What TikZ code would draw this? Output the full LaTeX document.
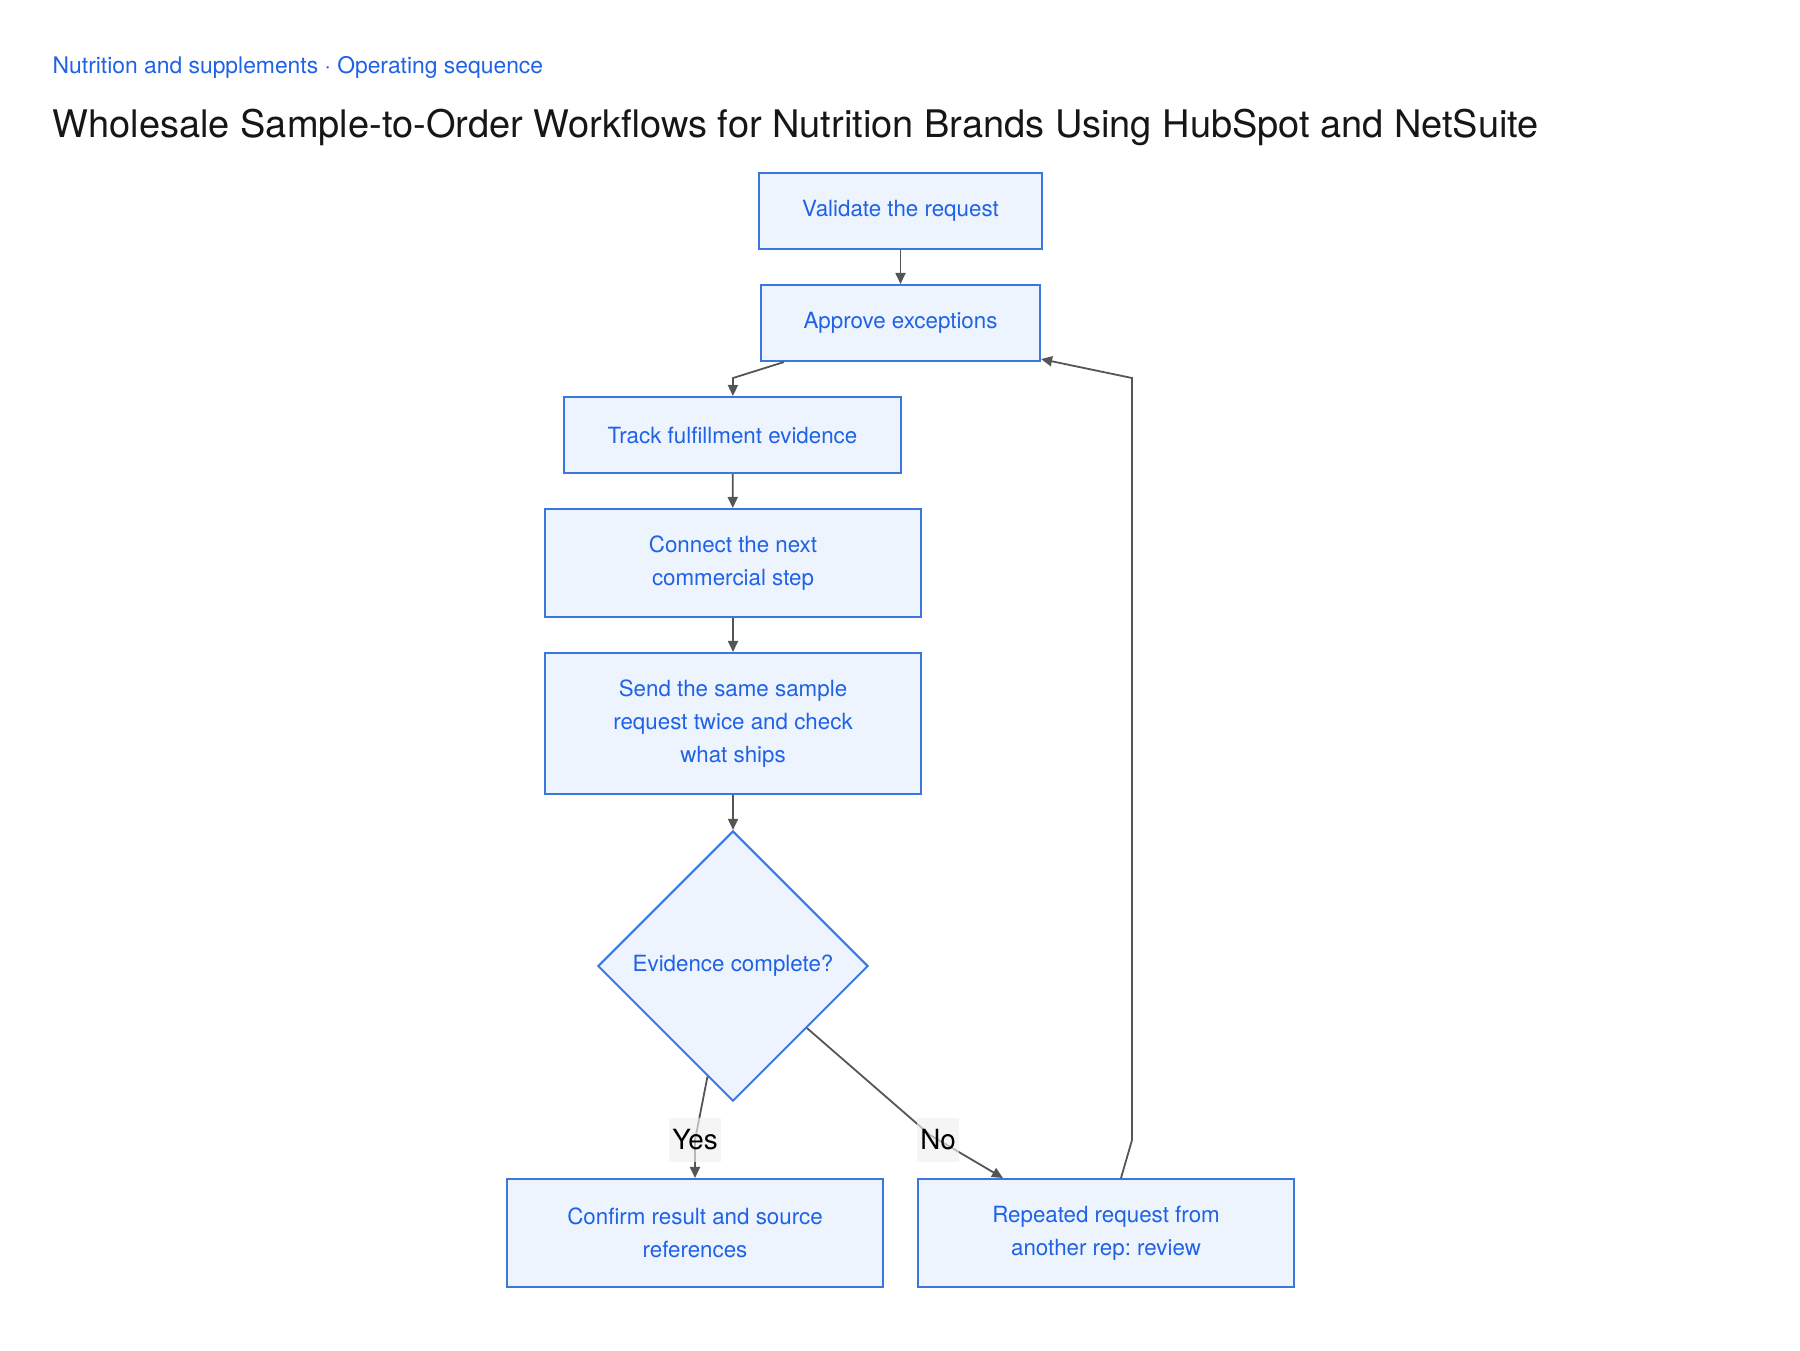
\documentclass[tikz,border=0pt]{standalone}
\usepackage{fontspec}
\setmainfont{TeX Gyre Heros}
\usepackage{xcolor}
\usetikzlibrary{shapes.geometric}
\usetikzlibrary{arrows.meta}
\frenchspacing
\definecolor{stepblue}{HTML}{1F62E6}
\definecolor{stepfill}{HTML}{EDF4FE}
\definecolor{stepline}{HTML}{3A78E0}
\definecolor{flowgray}{HTML}{555555}
\definecolor{titleink}{HTML}{161616}
\definecolor{tagfill}{HTML}{EFEFEF}
\tikzset{
  stepbox/.style={draw=stepline, fill=stepfill, line width=0.02cm, text=stepblue,
    align=center, inner sep=0pt, font=\fontsize{6.35pt}{9.3pt}\selectfont},
  decision/.style={diamond, aspect=1, draw=stepline, fill=stepfill, line width=0.02cm,
    text=stepblue, inner sep=0pt, minimum width=2.7cm, minimum height=2.7cm,
    font=\fontsize{6.35pt}{9.3pt}\selectfont},
  flow/.style={draw=flowgray, line width=0.018cm, -{Triangle[length=0.11cm,width=0.1cm]}},
  tag/.style={fill=tagfill, fill opacity=0.65, text opacity=1, text=black, inner xsep=0.03cm,
    minimum height=0.41cm, font=\fontsize{7.9pt}{9pt}\selectfont},
}

\begin{document}
\begin{tikzpicture}[x=0.01cm,y=-0.01cm]
  \useasboundingbox (0,0) rectangle (1800,1350);

  % Heading
  \node[anchor=base west, inner sep=0pt, text=stepblue, font=\fontsize{6.5pt}{8pt}\selectfont] (crumb) at (52,73) {Nutrition and supplements · Operating sequence};
  \node[anchor=base west, inner sep=0pt, text=titleink, font=\fontsize{10.8pt}{13pt}\selectfont] (title) at (52,137) {Wholesale Sample-to-Order Workflows for Nutrition Brands Using HubSpot and NetSuite};

  % Steps
  \node[stepbox, minimum width=2.83cm, minimum height=0.76cm] (validate) at (900.5,211) {Validate the request};
  \node[stepbox, minimum width=2.79cm, minimum height=0.76cm] (approve) at (900.5,323) {Approve exceptions};
  \node[stepbox, minimum width=3.37cm, minimum height=0.76cm] (track) at (732.5,435) {Track fulfillment evidence};
  \node[stepbox, minimum width=3.76cm, minimum height=1.08cm] (connect) at (733,563) {Connect the next\\commercial step};
  \node[stepbox, minimum width=3.76cm, minimum height=1.41cm] (send) at (733,723.5) {Send the same sample\\request twice and check\\what ships};

  % Decision
  \node[decision] (decide) at (733,966) {Evidence complete?};

  % Outcomes
  \node[stepbox, minimum width=3.76cm, minimum height=1.08cm] (confirm) at (695,1233) {Confirm result and source\\references};
  \node[stepbox, minimum width=3.76cm, minimum height=1.08cm] (repeat) at (1106,1233) {Repeated request from\\another rep: review};

  % Connectors
  \draw[flow] (validate) -- (approve);
  \draw[flow] ([xshift=0.24cm]approve.south west) -- (733,378) -- (track);
  \draw[flow] (track) -- (connect);
  \draw[flow] (connect) -- (send);
  \draw[flow] (send) -- (decide);
  \draw[flow] (decide.-103) -- (695,1140) node[tag] (yes) {Yes} -- (confirm.north -| 695,0);
  \draw[flow] (decide.-40) -- (930,1135) node[tag] (no) at (938,1140) {No} -- ([xshift=-1.03cm]repeat.north);
  \draw[flow] ([xshift=0.15cm]repeat.north) -- (1132,1140) -- (1132,378) -- ([yshift=0.03cm]approve.south east);
\end{tikzpicture}
\end{document}
